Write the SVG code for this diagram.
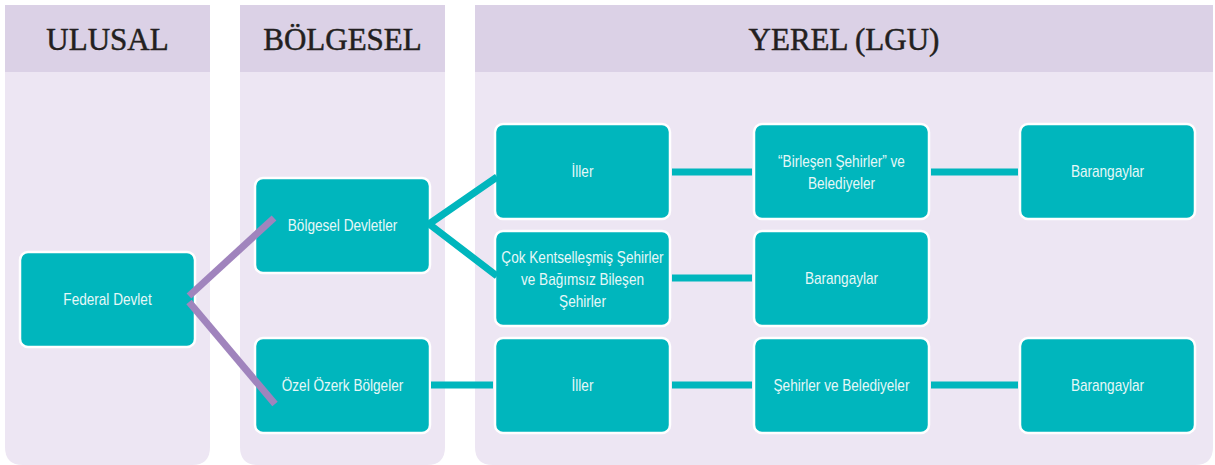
<svg xmlns="http://www.w3.org/2000/svg" width="1215" height="465" viewBox="0 0 1215 465">
  <style>
    .panel { fill: #ede6f3; }
    .band { fill: #dbd1e6; }
    .head { font-family: "Liberation Serif", "Times New Roman", serif; font-size: 31px; fill: #231f20; text-anchor: middle; stroke: #231f20; stroke-width: 0.5; }
    .node rect { fill: #00b6bd; stroke: #ffffff; stroke-width: 2.5; }
    .node text { font-family: "Liberation Sans", Arial, sans-serif; font-size: 16px; fill: #e6f8f8; text-anchor: middle; }
    .teal { stroke: #00b6bd; stroke-width: 7; fill: none; }
    .purple { stroke: #a084bd; stroke-width: 7; fill: none; }
  </style>

  <!-- column panels with rounded bottoms -->
  <g id="columns">
    <path class="panel" d="M5 5 H210 V447 Q210 465 192 465 H23 Q5 465 5 447 Z"/>
    <rect class="band" x="5" y="5" width="205" height="67"/>
    <text class="head" x="107.5" y="50">ULUSAL</text>

    <path class="panel" d="M240 5 H445 V447 Q445 465 427 465 H258 Q240 465 240 447 Z"/>
    <rect class="band" x="240" y="5" width="205" height="67"/>
    <text class="head" x="342.5" y="50">BÖLGESEL</text>

    <path class="panel" d="M475 5 H1213 V447 Q1213 465 1195 465 H493 Q475 465 475 447 Z"/>
    <rect class="band" x="475" y="5" width="738" height="67"/>
    <text class="head" x="844" y="50">YEREL (LGU)</text>
  </g>

  <!-- node labels use a horizontally condensed sans -->
  <g id="federal-devlet" class="node">
    <rect x="20" y="252" width="175" height="95" rx="8"/>
    <text transform="translate(107.5 305) scale(0.85 1)">Federal Devlet</text>
  </g>
  <g id="bolgesel-devletler" class="node">
    <rect x="255" y="178" width="175" height="95" rx="8"/>
    <text transform="translate(342.5 231) scale(0.85 1)">Bölgesel Devletler</text>
  </g>
  <g id="ozel-ozerk-bolgeler" class="node">
    <rect x="255" y="338" width="175" height="95" rx="8"/>
    <text transform="translate(342.5 391) scale(0.85 1)">Özel Özerk Bölgeler</text>
  </g>

  <g id="iller-1" class="node">
    <rect x="495" y="124" width="175" height="95" rx="8"/>
    <text transform="translate(582.5 177) scale(0.85 1)">İller</text>
  </g>
  <g id="cok-kentsellesmis" class="node">
    <rect x="495" y="231" width="175" height="95" rx="8"/>
    <text transform="translate(582.5 263) scale(0.85 1)">Çok Kentselleşmiş Şehirler</text>
    <text transform="translate(582.5 285) scale(0.85 1)">ve Bağımsız Bileşen</text>
    <text transform="translate(582.5 307) scale(0.85 1)">Şehirler</text>
  </g>
  <g id="iller-2" class="node">
    <rect x="495" y="338" width="175" height="95" rx="8"/>
    <text transform="translate(582.5 391) scale(0.85 1)">İller</text>
  </g>

  <g id="birlesen-sehirler" class="node">
    <rect x="754" y="124" width="175" height="95" rx="8"/>
    <text transform="translate(841.5 167) scale(0.85 1)">“Birleşen Şehirler” ve</text>
    <text transform="translate(841.5 189) scale(0.85 1)">Belediyeler</text>
  </g>
  <g id="barangaylar-2" class="node">
    <rect x="754" y="231" width="175" height="95" rx="8"/>
    <text transform="translate(841.5 284) scale(0.85 1)">Barangaylar</text>
  </g>
  <g id="sehirler-belediyeler" class="node">
    <rect x="754" y="338" width="175" height="95" rx="8"/>
    <text transform="translate(841.5 391) scale(0.85 1)">Şehirler ve Belediyeler</text>
  </g>

  <g id="barangaylar-1" class="node">
    <rect x="1020" y="124" width="175" height="95" rx="8"/>
    <text transform="translate(1107.5 177) scale(0.85 1)">Barangaylar</text>
  </g>
  <g id="barangaylar-3" class="node">
    <rect x="1020" y="338" width="175" height="95" rx="8"/>
    <text transform="translate(1107.5 391) scale(0.85 1)">Barangaylar</text>
  </g>

  <!-- connectors, drawn over the node edges -->
  <g id="connectors">
    <line class="purple" x1="189" y1="296" x2="274" y2="218"/>
    <line class="purple" x1="189" y1="302" x2="275" y2="404"/>
    <polyline class="teal" points="497,177 429,224 497,276"/>
    <line class="teal" x1="672" y1="172" x2="752" y2="172"/>
    <line class="teal" x1="931" y1="172" x2="1018" y2="172"/>
    <line class="teal" x1="672" y1="278" x2="752" y2="278"/>
    <line class="teal" x1="431" y1="385" x2="493" y2="385"/>
    <line class="teal" x1="672" y1="385" x2="752" y2="385"/>
    <line class="teal" x1="931" y1="385" x2="1018" y2="385"/>
  </g>
</svg>
